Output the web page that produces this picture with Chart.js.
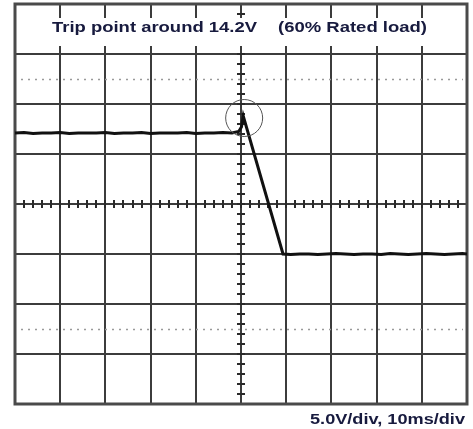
<!DOCTYPE html>
<html>
<head>
<meta charset="utf-8">
<script src="https://cdn.jsdelivr.net/npm/chart.js@4/dist/chart.umd.min.js"></script>
<style>
  html, body { margin: 0; padding: 0; background: #fff; }
  canvas { display: block; }
</style>
</head>
<body>
<canvas id="scope" width="473" height="429"></canvas>
<script>
// Time axis in ms (10 ms/div), voltage axis in V (5 V/div)
const timeMs = [0, 2, 4, 6, 8, 10, 12, 14, 16, 18, 20, 22, 24, 26, 28, 30, 32, 34, 36, 38, 40, 42, 44, 46, 48, 49.5, 50.1, 50.5,
                59.3, 61, 63, 65, 67, 69, 71, 73, 75, 77, 79, 81, 83, 85, 87, 89, 91, 93, 95, 97, 99, 100];
const voltage = [12.1, 12.15, 12.05, 12.1, 12.1, 12.15, 12.05, 12.1, 12.1, 12.1, 12.15, 12.05, 12.1, 12.1, 12.15, 12.05, 12.1, 12.1, 12.1, 12.15, 12.05, 12.1, 12.1, 12.15, 12.1, 12.25, 12.7, 13.8,
                 0.0, -0.05, 0.0, 0.0, -0.05, 0.0, 0.05, 0.0, -0.05, 0.0, 0.0, -0.05, 0.05, 0.0, -0.05, 0.0, 0.05, 0.0, -0.05, 0.0, 0.05, 0.0];

const gridTimeTicks = [0, 10, 20, 30, 40, 50, 60, 70, 80, 90, 100];
const gridVoltTicks = [-15, -10, -5, 0, 5, 10, 15, 20, 25];
const markerVolts = [17.5, -7.5];         // dotted reference levels
const centerTime = 50, centerVolt = 5;    // graticule centre axes
const tripMark = { t: 50.7, v: 13.6 };    // circled trip point

const titleLeft = 'Trip point around 14.2V';
const titleRight = '(60% Rated load)';
const scaleLabel = '5.0V/div, 10ms/div';

function drawFitted(ctx, text, x, baseline, width, font, color) {
  ctx.save();
  ctx.font = font;
  ctx.fillStyle = color;
  ctx.textBaseline = 'alphabetic';
  ctx.textAlign = 'left';
  const w = ctx.measureText(text).width;
  ctx.translate(x, baseline);
  ctx.scale(width / w, 1);
  ctx.fillText(text, 0, 0);
  ctx.restore();
}

const graticule = {
  id: 'graticule',
  beforeDatasetsDraw(chart) {
    const { ctx, chartArea: a, scales: { x, y } } = chart;
    ctx.save();
    // main grid
    ctx.strokeStyle = '#3c3c3c';
    ctx.lineWidth = 2;
    ctx.beginPath();
    gridTimeTicks.forEach(t => { const px = Math.round(x.getPixelForValue(t)); ctx.moveTo(px, a.top); ctx.lineTo(px, a.bottom); });
    gridVoltTicks.forEach(v => { const py = Math.round(y.getPixelForValue(v)); ctx.moveTo(a.left, py); ctx.lineTo(a.right, py); });
    ctx.stroke();

    // dotted reference levels
    ctx.strokeStyle = '#9a9a9a';
    ctx.lineWidth = 1.5;
    ctx.setLineDash([2, 5]);
    ctx.beginPath();
    markerVolts.forEach(v => { const py = Math.round(y.getPixelForValue(v)) + 0.5; ctx.moveTo(a.left + 6, py); ctx.lineTo(a.right - 4, py); });
    ctx.stroke();
    ctx.setLineDash([]);

    // minor ticks along the centre axes
    ctx.strokeStyle = '#2a2a2a';
    ctx.lineWidth = 2;
    ctx.beginPath();
    const cx = Math.round(x.getPixelForValue(centerTime));
    for (let v = -15; v <= 25; v += 1) {
      const py = Math.round(y.getPixelForValue(v));
      ctx.moveTo(cx - 4, py); ctx.lineTo(cx + 4, py);
    }
    const cy = Math.round(y.getPixelForValue(centerVolt));
    for (let t = 0; t <= 100; t += 2) {
      const px = Math.round(x.getPixelForValue(t));
      ctx.moveTo(px, cy - 4); ctx.lineTo(px, cy + 4);
    }
    ctx.stroke();

    // band behind the heading
    ctx.fillStyle = '#ffffff';
    ctx.fillRect(a.left + 2, a.top + 14, a.right - a.left - 4, 28);

    // frame
    ctx.strokeStyle = '#4a4a4a';
    ctx.lineWidth = 3;
    ctx.strokeRect(a.left, a.top, a.right - a.left, a.bottom - a.top);
    ctx.restore();
  },
  afterDatasetsDraw(chart) {
    const { ctx, scales: { x, y } } = chart;
    ctx.save();
    ctx.strokeStyle = '#555';
    ctx.lineWidth = 1;
    ctx.beginPath();
    ctx.arc(x.getPixelForValue(tripMark.t), y.getPixelForValue(tripMark.v), 18.5, 0, Math.PI * 2);
    ctx.stroke();
    ctx.restore();

    const ink = '#171a3e';
    drawFitted(ctx, titleLeft, 52, 32, 205, 'bold 14px "Liberation Sans", Arial, sans-serif', ink);
    drawFitted(ctx, titleRight, 278, 32, 149, 'bold 14px "Liberation Sans", Arial, sans-serif', ink);
    drawFitted(ctx, scaleLabel, 310, 424, 155, 'bold 15px "Liberation Sans", Arial, sans-serif', ink);
  }
};

new Chart(document.getElementById('scope'), {
  type: 'scatter',
  data: {
    datasets: [{
      data: timeMs.map((t, i) => ({ x: t, y: voltage[i] })),
      showLine: true,
      borderColor: '#111',
      borderWidth: 3,
      pointRadius: 0,
      tension: 0
    }]
  },
  options: {
    responsive: false,
    devicePixelRatio: 1,
    animation: false,
    layout: { padding: { left: 15, right: 6, top: 4, bottom: 25 } },
    plugins: { legend: { display: false }, tooltip: { enabled: false } },
    scales: {
      x: { type: 'linear', display: false, min: 0, max: 100 },
      y: { type: 'linear', display: false, min: -15, max: 25 }
    }
  },
  plugins: [graticule]
});
</script>
</body>
</html>
